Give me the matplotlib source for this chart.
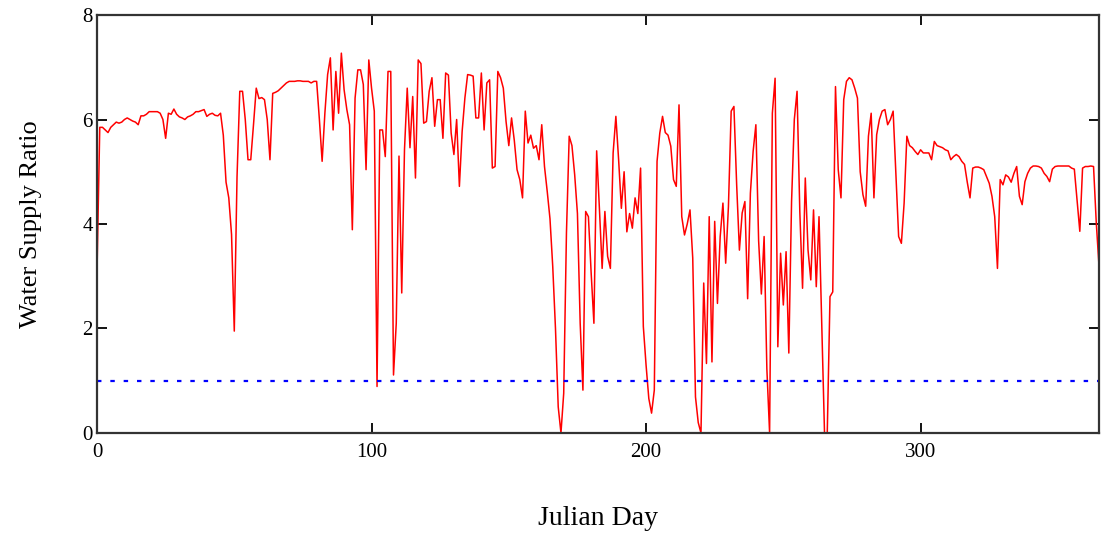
import matplotlib
matplotlib.use("Agg")
import matplotlib.pyplot as plt
import numpy as np

# daily water supply ratio, day 0 .. 365
ratio = [
    3.10, 5.85, 5.85, 5.80, 5.75, 5.85, 5.90, 5.95, 5.93, 5.95,
    6.00, 6.03, 6.00, 5.97, 5.95, 5.90, 6.07, 6.07, 6.10, 6.15,
    6.15, 6.15, 6.15, 6.12, 6.00, 5.64, 6.12, 6.10, 6.20, 6.10,
    6.05, 6.03, 6.00, 6.05, 6.07, 6.10, 6.15, 6.15, 6.17, 6.19,
    6.06, 6.10, 6.12, 6.08, 6.07, 6.12, 5.70, 4.80, 4.50, 3.80,
    1.95, 4.90, 6.54, 6.54, 6.00, 5.23, 5.23, 5.90, 6.60, 6.40,
    6.42, 6.38, 6.00, 5.23, 6.50, 6.52, 6.55, 6.60, 6.65, 6.70,
    6.73, 6.73, 6.73, 6.74, 6.74, 6.73, 6.73, 6.73, 6.70, 6.73,
    6.73, 6.00, 5.20, 6.12, 6.86, 7.18, 5.80, 6.92, 6.12, 7.27,
    6.57, 6.19, 5.90, 3.89, 6.41, 6.95, 6.95, 6.67, 5.04, 7.14,
    6.60, 6.16, 0.89, 5.80, 5.80, 5.29, 6.92, 6.92, 1.11, 2.10,
    5.30, 2.68, 5.42, 6.60, 5.46, 6.44, 4.88, 7.14, 7.07, 5.93,
    5.96, 6.54, 6.80, 5.87, 6.38, 6.38, 5.64, 6.89, 6.85, 5.74,
    5.33, 6.00, 4.72, 5.77, 6.41, 6.86, 6.85, 6.83, 6.03, 6.03,
    6.89, 5.80, 6.70, 6.76, 5.07, 5.10, 6.92, 6.80, 6.60, 5.96,
    5.50, 6.03, 5.60, 5.04, 4.85, 4.50, 6.16, 5.55, 5.70, 5.45,
    5.50, 5.23, 5.90, 5.10, 4.62, 4.10, 3.19, 2.00, 0.50, 0.00,
    0.76, 3.83, 5.68, 5.50, 4.94, 4.20, 2.10, 0.82, 4.24, 4.14,
    3.06, 2.10, 5.40, 4.30, 3.15, 4.24, 3.38, 3.15, 5.36, 6.06,
    5.23, 4.30, 5.00, 3.85, 4.20, 3.92, 4.50, 4.20, 5.07, 2.04,
    1.30, 0.66, 0.38, 0.82, 5.20, 5.74, 6.06, 5.75, 5.70, 5.49,
    4.85, 4.72, 6.28, 4.14, 3.79, 4.00, 4.27, 3.35, 0.69, 0.20,
    0.00, 2.87, 1.33, 4.14, 1.36, 4.05, 2.48, 3.76, 4.40, 3.25,
    4.33, 6.16, 6.25, 4.75, 3.50, 4.21, 4.43, 2.57, 4.59, 5.39,
    5.90, 3.68, 2.66, 3.76, 1.23, 0.00, 6.12, 6.79, 1.65, 3.44,
    2.45, 3.47, 1.53, 4.43, 6.00, 6.54, 4.24, 2.77, 4.88, 3.50,
    2.93, 4.27, 2.80, 4.14, 2.07, 0.00, 0.00, 2.61, 2.70, 6.63,
    5.04, 4.50, 6.38, 6.73, 6.80, 6.76, 6.60, 6.41, 5.00, 4.56,
    4.34, 5.68, 6.12, 4.50, 5.71, 6.00, 6.16, 6.19, 5.90, 6.00,
    6.16, 4.94, 3.76, 3.63, 4.40, 5.68, 5.50, 5.46, 5.39, 5.33,
    5.42, 5.36, 5.36, 5.36, 5.23, 5.58, 5.50, 5.48, 5.46, 5.42,
    5.40, 5.23, 5.29, 5.33, 5.29, 5.20, 5.14, 4.80, 4.50, 5.07,
    5.09, 5.09, 5.07, 5.04, 4.91, 4.78, 4.53, 4.14, 3.15, 4.85,
    4.75, 4.94, 4.90, 4.80, 4.97, 5.10, 4.53, 4.37, 4.81, 4.97,
    5.07, 5.11, 5.11, 5.10, 5.07, 4.97, 4.91, 4.81, 5.05, 5.10,
    5.11, 5.11, 5.11, 5.11, 5.11, 5.07, 5.05, 4.46, 3.86, 5.07,
    5.10, 5.10, 5.11, 5.10, 4.02, 3.19, 2.71,
]
days = np.arange(len(ratio))
threshold = 1.0

x_ticks = [0, 100, 200, 300]
y_ticks = [0, 2, 4, 6, 8]

plt.rcParams['font.family'] = ['Liberation Serif', 'DejaVu Serif']

fig = plt.figure(figsize=(11.05, 5.36), dpi=100)
ax = fig.add_axes([0.0878, 0.1922, 0.9068, 0.7798])

ax.plot(days, ratio, color='red', lw=1.1)
ax.axhline(threshold, color='blue', lw=1.6, linestyle=(0, (2, 4)))

ax.set_xlim(0, 365)
ax.set_ylim(0, 8)
ax.set_xticks(x_ticks)
ax.set_yticks(y_ticks)
ax.tick_params(direction='in', length=7, width=1.3, top=True, right=True,
               labelsize=15)
ax.tick_params(axis='x', pad=7)
ax.tick_params(axis='y', pad=3)
for s in ax.spines.values():
    s.set_linewidth(1.6)
    s.set_color('#333333')

ax.set_xlabel('Julian Day', fontsize=20, labelpad=32)
ax.set_ylabel('Water Supply Ratio', fontsize=19, labelpad=29)

fig.savefig('out.png', dpi=100)
